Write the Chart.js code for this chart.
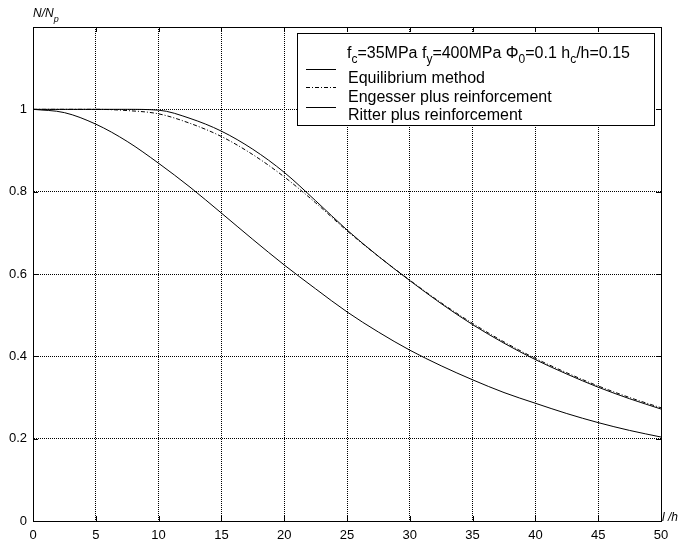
<!DOCTYPE html>
<html>
<head>
<meta charset="utf-8">
<script src="https://cdn.jsdelivr.net/npm/chart.js@4.4.1/dist/chart.umd.min.js"></script>
<style>
  html, body { margin: 0; padding: 0; background: #fff; }
</style>
</head>
<body>
<canvas id="chart" width="679" height="546"></canvas>
<script>
// Slenderness l/h vs. normalised capacity N/Np, three methods.
const slenderness = [0, 2.5, 5, 7.5, 10, 12.5, 15, 17.5, 20, 22.5, 25, 27.5, 30, 32.5, 35, 37.5, 40, 42.5, 45, 47.5, 50];
const equilibrium = [1, 1, 1, 1, 0.998, 0.978, 0.947, 0.903, 0.847, 0.778, 0.707, 0.643, 0.584, 0.528, 0.477, 0.432, 0.392, 0.357, 0.325, 0.297, 0.272];
const engesser    = [1, 1, 1, 0.997, 0.989, 0.966, 0.934, 0.890, 0.836, 0.773, 0.705, 0.643, 0.585, 0.530, 0.480, 0.435, 0.395, 0.360, 0.328, 0.300, 0.275];
const ritter      = [1, 0.992, 0.964, 0.922, 0.869, 0.811, 0.748, 0.684, 0.622, 0.564, 0.508, 0.459, 0.415, 0.377, 0.343, 0.312, 0.286, 0.261, 0.239, 0.220, 0.204];

const xTicks = [0, 5, 10, 15, 20, 25, 30, 35, 40, 45, 50];
const yTicks = [0, 0.2, 0.4, 0.6, 0.8, 1, 1.2];

const seriesNames = ['Equilibrium method', 'Engesser plus reinforcement', 'Ritter plus reinforcement'];
const seriesDash = [[], [4, 2, 1, 2], []];

const FONT = '"Liberation Sans", Arial, sans-serif';
const black = '#000';

const toPoints = (ys) => slenderness.map((x, i) => ({ x, y: ys[i] }));

// draws text with subscripts: parts = [[text, isSub], ...]
function drawRich(ctx, parts, x, y, size, italic) {
    const style = italic ? 'italic ' : '';
    parts.forEach(([txt, sub]) => {
        ctx.font = style + (sub ? Math.round(size * 0.72) : size) + 'px ' + FONT;
        ctx.fillText(txt, x, sub ? y + 5 : y);
        x += ctx.measureText(txt).width;
    });
}

const decorations = {
    id: 'decorations',
    afterDraw(chart) {
        const { ctx, chartArea: a, scales } = chart;
        ctx.save();
        ctx.strokeStyle = black;
        ctx.fillStyle = black;
        ctx.lineWidth = 1;
        ctx.setLineDash([]);

        // box
        ctx.strokeRect(a.left + 0.5, a.top + 0.5, a.right - a.left, a.bottom - a.top);

        // inward ticks on all sides
        ctx.beginPath();
        xTicks.forEach(v => {
            const px = Math.round(scales.x.getPixelForValue(v)) + 0.5;
            ctx.moveTo(px, a.bottom); ctx.lineTo(px, a.bottom - 5);
            ctx.moveTo(px, a.top); ctx.lineTo(px, a.top + 5);
        });
        yTicks.forEach(v => {
            const py = Math.round(scales.y.getPixelForValue(v)) + 0.5;
            ctx.moveTo(a.left, py); ctx.lineTo(a.left + 5, py);
            ctx.moveTo(a.right, py); ctx.lineTo(a.right - 5, py);
        });
        ctx.stroke();

        // axis titles
        ctx.textBaseline = 'alphabetic';
        ctx.textAlign = 'left';
        drawRich(ctx, [['N/N', false], ['p', true]], 33, 17, 12, true);
        drawRich(ctx, [['l /h', false]], 662, 521, 12, true);

        // legend box
        const lx = 297, ly = 33, lw = 357, lh = 92;
        ctx.fillStyle = '#fff';
        ctx.fillRect(lx, ly, lw, lh);
        ctx.strokeRect(lx + 0.5, ly + 0.5, lw, lh);
        ctx.fillStyle = black;

        drawRich(ctx, [
            ['f', false], ['c', true], ['=35MPa f', false], ['y', true],
            ['=400MPa \u03A6', false], ['0', true], ['=0.1 h', false], ['c', true], ['/h=0.15', false]
        ], 347, 58, 16, false);

        const rowY = [83, 102, 120];
        const sampleY = [69, 87, 107];
        seriesNames.forEach((name, i) => {
            ctx.font = '16px ' + FONT;
            ctx.fillText(name, 348, rowY[i]);
            ctx.beginPath();
            ctx.setLineDash(seriesDash[i]);
            ctx.moveTo(306, sampleY[i] + 0.5);
            ctx.lineTo(336, sampleY[i] + 0.5);
            ctx.stroke();
        });
        ctx.restore();
    }
};

const lineStyle = (label, ys, dash) => ({
    label,
    data: toPoints(ys),
    borderColor: black,
    borderWidth: 1,
    borderDash: dash,
    pointRadius: 0,
    fill: false,
    cubicInterpolationMode: 'monotone'
});

new Chart(document.getElementById('chart'), {
    type: 'line',
    data: {
        datasets: [
            lineStyle(seriesNames[0], equilibrium, seriesDash[0]),
            lineStyle(seriesNames[1], engesser, seriesDash[1]),
            lineStyle(seriesNames[2], ritter, seriesDash[2])
        ]
    },
    options: {
        responsive: false,
        animation: false,
        layout: { padding: { left: 0, top: 27, right: 18, bottom: 0 } },
        plugins: {
            legend: { display: false },
            tooltip: { enabled: false }
        },
        scales: {
            x: {
                type: 'linear',
                min: 0,
                max: 50,
                afterFit: (s) => { s.height = 25; },
                afterBuildTicks: (s) => { s.ticks = xTicks.map(v => ({ value: v })); },
                grid: { color: black, lineWidth: 1, drawTicks: false },
                border: { display: true, color: black, width: 1, dash: [1, 1] },
                ticks: {
                    color: black,
                    padding: 7,
                    maxRotation: 0,
                    font: { family: FONT, size: 13 }
                }
            },
            y: {
                type: 'linear',
                min: 0,
                max: 1.2,
                afterFit: (s) => { s.width = 33; },
                afterBuildTicks: (s) => { s.ticks = yTicks.map(v => ({ value: v })); },
                grid: { color: black, lineWidth: 1, drawTicks: false },
                border: { display: true, color: black, width: 1, dash: [1, 1] },
                ticks: {
                    color: black,
                    padding: 6,
                    font: { family: FONT, size: 13 },
                    callback: (v) => v > 1.01 ? null : String(+v.toFixed(1))
                }
            }
        }
    },
    plugins: [decorations]
});
</script>
</body>
</html>
